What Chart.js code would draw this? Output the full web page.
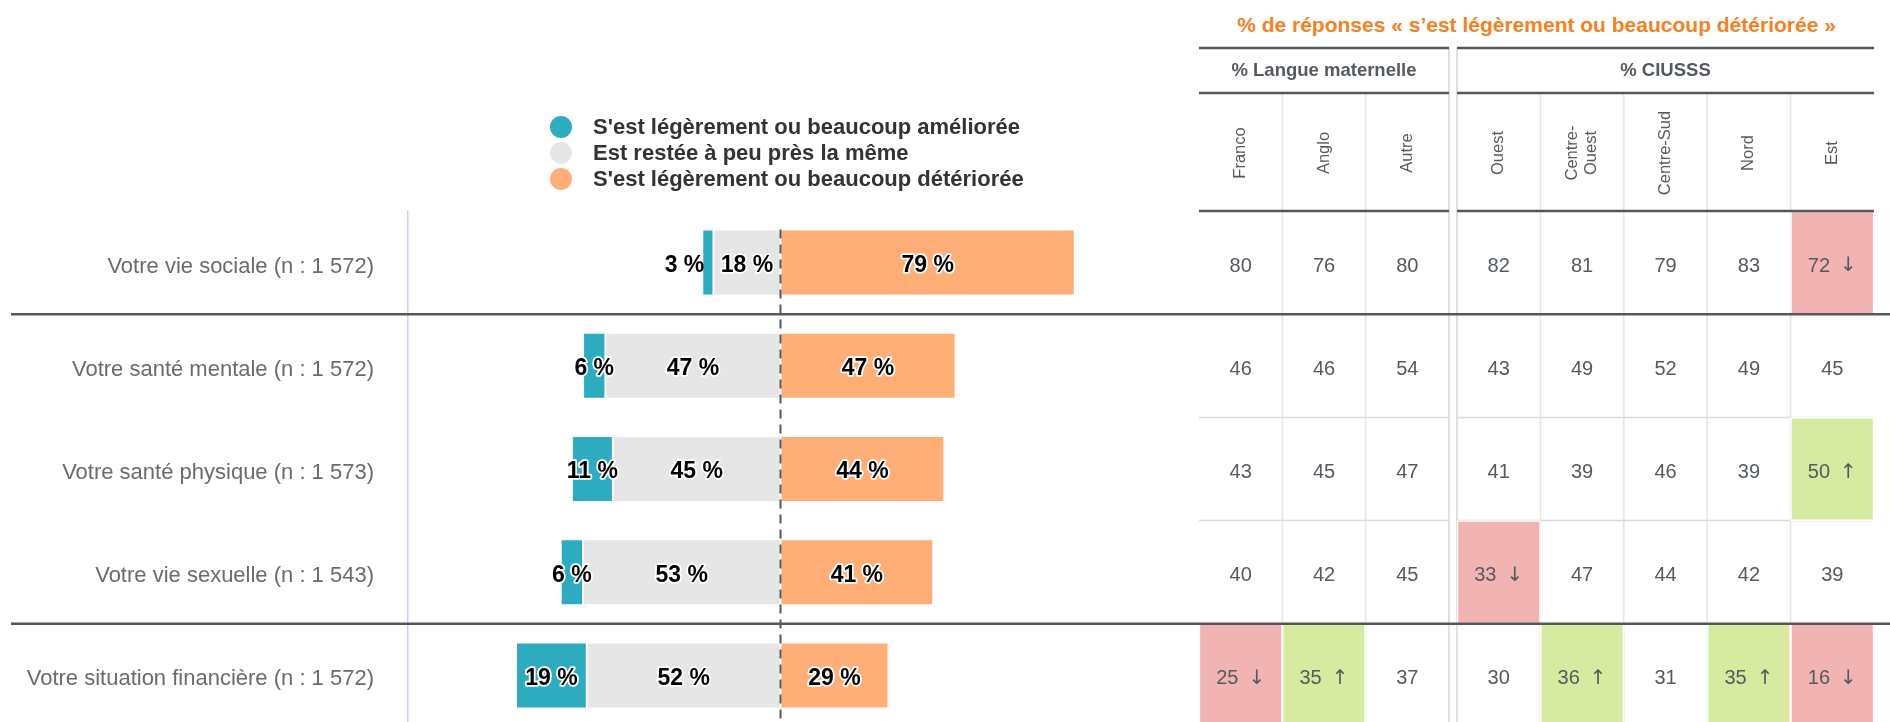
<!DOCTYPE html>
<html lang="fr">
<head>
<meta charset="utf-8">
<title>Évolution depuis la pandémie</title>
<script src="https://cdn.jsdelivr.net/npm/chart.js@4.4.1/dist/chart.umd.min.js"></script>
<style>
  html, body { margin: 0; padding: 0; background: #fff; }
  body { width: 1890px; height: 722px; overflow: hidden; position: relative; font-family: "Liberation Sans", Arial, sans-serif; }
  canvas { position: absolute; top: 0; }
  #c-main { left: 0; }
  #c-langue { left: 1190px; }
  #c-ciusss { left: 1453px; }
  #titre { position: absolute; left: 1199px; width: 675px; top: 11px; text-align: center; color: #f5821f; font-weight: bold; font-size: 21px; line-height: 28px; white-space: nowrap; }
</style>
</head>
<body>
<div id="titre">% de réponses « s’est légèrement ou beaucoup détériorée »</div>
<canvas id="c-main" width="1190" height="727"></canvas>
<canvas id="c-langue" width="263" height="727"></canvas>
<canvas id="c-ciusss" width="437" height="727"></canvas>
<script>
const FONT = '"Liberation Sans", Arial, sans-serif';
const DARK = '#54585e';

// —— données —— //
const rowLabels = [
  'Votre vie sociale (n : 1 572)',
  'Votre santé mentale (n : 1 572)',
  'Votre santé physique (n : 1 573)',
  'Votre vie sexuelle (n : 1 543)',
  'Votre situation financière (n : 1 572)'
];
const groupStarts = [1, 4]; // lignes précédées d'un trait épais

const serieNames = [
  "S'est légèrement ou beaucoup améliorée",
  'Est restée à peu près la même',
  "S'est légèrement ou beaucoup détériorée"
];
const serieColors = ['#2eacbf', '#e6e6e6', '#ffae78'];
const ameliore  = [3, 6, 11, 6, 19];
const meme      = [18, 47, 45, 53, 52];
const deteriore = [79, 47, 44, 41, 29];

const langueCols = ['Franco', 'Anglo', 'Autre'];
const franco = [80, 46, 43, 40, 25];
const anglo  = [76, 46, 45, 42, 35];
const autre  = [80, 54, 47, 45, 37];
const francoSig = ['', '', '', '', 'down'];
const angloSig  = ['', '', '', '', 'up'];
const autreSig  = ['', '', '', '', ''];

const ciusssCols = ['Ouest', 'Centre-\nOuest', 'Centre-Sud', 'Nord', 'Est'];
const ouest       = [82, 43, 41, 33, 30];
const centreOuest = [81, 49, 39, 47, 36];
const centreSud   = [79, 52, 46, 44, 31];
const nord        = [83, 49, 39, 42, 35];
const est         = [72, 45, 50, 39, 16];
const ouestSig       = ['', '', '', 'down', ''];
const centreOuestSig = ['', '', '', '', 'up'];
const centreSudSig   = ['', '', '', '', ''];
const nordSig        = ['', '', '', '', 'up'];
const estSig         = ['down', '', 'up', '', 'down'];

const sigColors = { down: '#f2b3b3', up: '#d6eb9f' };
const sigArrows = { down: '↓', up: '↑' };

Chart.defaults.font.family = FONT;

function line(ctx, x1, y1, x2, y2){
  ctx.beginPath(); ctx.moveTo(x1, y1); ctx.lineTo(x2, y2); ctx.stroke();
}
function rowBoundary(y, i){
  return (y.getPixelForValue(i - 1) + y.getPixelForValue(i)) / 2;
}

// —— graphique principal (barres divergentes) —— //
const mainDeco = {
  id: 'mainDeco',
  afterDatasetsDraw(chart){
    const { ctx, chartArea, scales: { x, y } } = chart;
    ctx.save();
    ctx.strokeStyle = DARK;
    ctx.lineWidth = 2.5;
    groupStarts.forEach(i => {
      const yy = rowBoundary(y, i);
      line(ctx, 11, yy, chart.width, yy);
    });
    // ligne du zéro, pointillée
    const x0 = x.getPixelForValue(0);
    const first = chart.getDatasetMeta(0).data[0];
    ctx.lineWidth = 2;
    ctx.setLineDash([9, 6]);
    line(ctx, x0, first.y - first.height / 2, x0, chartArea.bottom);
    ctx.setLineDash([]);

    // étiquettes des segments (halo blanc)
    ctx.font = `bold 23px ${FONT}`;
    ctx.textBaseline = 'middle';
    ctx.lineJoin = 'round';
    ctx.lineWidth = 3.5;
    ctx.strokeStyle = '#fff';
    ctx.fillStyle = '#000';
    chart.data.datasets.forEach((ds, di) => {
      chart.getDatasetMeta(di).data.forEach((bar, i) => {
        const txt = Math.abs(ds.data[i]) + ' %';
        const left = Math.min(bar.x, bar.base), right = Math.max(bar.x, bar.base);
        const ty = bar.y + 3;
        if (right - left < 15) {
          ctx.textAlign = 'right';
          ctx.fillText(txt, left + 2, ty);
        } else {
          ctx.textAlign = 'center';
          const cx = (left + right) / 2;
          ctx.strokeText(txt, cx, ty);
          ctx.fillText(txt, cx, ty);
        }
      });
    });
    ctx.restore();
  },
  afterDraw(chart){
    // légende
    const ctx = chart.ctx;
    const ly = [127, 153, 179];
    ctx.save();
    ctx.font = `bold 22px ${FONT}`;
    ctx.textBaseline = 'middle';
    ctx.textAlign = 'left';
    serieNames.forEach((name, i) => {
      ctx.fillStyle = serieColors[i];
      ctx.beginPath(); ctx.arc(561, ly[i], 11, 0, Math.PI * 2); ctx.fill();
      ctx.fillStyle = '#333';
      ctx.fillText(name, 593, ly[i] + 1);
    });
    ctx.restore();
  }
};

const barStyle = { borderColor: '#fff', borderWidth: 1, borderSkipped: false, barPercentage: 0.64, categoryPercentage: 1 };

new Chart(document.getElementById('c-main'), {
  type: 'bar',
  data: {
    labels: rowLabels,
    datasets: [
      { label: serieNames[1], data: meme.map(v => -v), backgroundColor: serieColors[1], ...barStyle },
      { label: serieNames[0], data: ameliore.map(v => -v), backgroundColor: serieColors[0], ...barStyle },
      { label: serieNames[2], data: deteriore, backgroundColor: serieColors[2], ...barStyle }
    ]
  },
  options: {
    indexAxis: 'y',
    responsive: false,
    animation: false,
    layout: { padding: { top: 211, right: 37, left: 0, bottom: 0 } },
    scales: {
      x: { stacked: true, min: -100, max: 100, display: false },
      y: {
        stacked: true,
        grid: { display: false, drawTicks: false },
        border: { display: true, color: '#c9d3ea', width: 1.5 },
        ticks: { padding: 34, labelOffset: 4, color: '#6b6b6b', font: { size: 22 } },
        afterFit: s => { s.width = 408; s.paddingTop = 0; s.paddingBottom = 0; }
      }
    },
    plugins: { legend: { display: false }, tooltip: { enabled: false } }
  },
  plugins: [mainDeco]
});

// —— tableaux de pourcentages —— //
function tableChart(id, groupTitle, cols, vals, sigs, edge, pad){
  const deco = {
    id: 'deco',
    beforeDatasetsDraw(chart){
      const { ctx, chartArea: a, scales: { x, y } } = chart;
      ctx.save();
      ctx.lineWidth = 1.5;
      ctx.strokeStyle = '#e6e6e6';
      for (let k = 1; k < cols.length; k++) {
        const xx = x.getPixelForValue(k);
        line(ctx, xx, 94, xx, chart.height);
      }
      ctx.strokeStyle = '#d6d6d6';
      const ex = edge === 'right' ? a.right : a.left;
      line(ctx, ex, 48, ex, chart.height);
      ctx.strokeStyle = '#dcdcdc';
      for (let i = 1; i < rowLabels.length; i++) {
        if (groupStarts.includes(i)) continue;
        const yy = rowBoundary(y, i);
        line(ctx, a.left, yy, a.right, yy);
      }
      ctx.restore();
    },
    afterDatasetsDraw(chart){
      const { ctx, chartArea: a, scales: { x, y } } = chart;
      ctx.save();
      ctx.strokeStyle = DARK;
      ctx.lineWidth = 2.5;
      [48, 93, a.top].forEach(yy => line(ctx, a.left, yy, a.right, yy));
      groupStarts.forEach(i => {
        const yy = rowBoundary(y, i);
        line(ctx, 0, yy, chart.width, yy);
      });

      ctx.fillStyle = '#555a60';
      ctx.textAlign = 'center';
      ctx.textBaseline = 'middle';
      ctx.font = `bold 18.5px ${FONT}`;
      ctx.fillText(groupTitle, (a.left + a.right) / 2, 71);

      // en-têtes de colonnes, verticaux
      ctx.font = `16.5px ${FONT}`;
      cols.forEach((c, k) => {
        const parts = c.split('\n');
        ctx.save();
        ctx.translate(x.getPixelForValue(k + 0.5), 153);
        ctx.rotate(-Math.PI / 2);
        parts.forEach((p, j) => ctx.fillText(p, 0, (j - (parts.length - 1) / 2) * 19));
        ctx.restore();
      });

      // valeurs des cellules, flèche si écart significatif
      const numFont = `20px ${FONT}`, arrowFont = '20px "DejaVu Sans"';
      ctx.textAlign = 'left';
      chart.data.datasets.forEach((ds, k) => {
        chart.getDatasetMeta(k).data.forEach((cell, i) => {
          const num = String(vals[k][i]);
          const arrow = sigArrows[sigs[k][i]] || '';
          const ty = cell.y + 3.5;
          ctx.font = numFont;
          const w1 = ctx.measureText(num).width;
          let w2 = 0, gap = 0;
          if (arrow) { ctx.font = arrowFont; w2 = ctx.measureText(arrow).width; gap = 10; }
          const start = (cell.x + cell.base) / 2 - (w1 + gap + w2) / 2;
          ctx.font = numFont;
          ctx.fillText(num, start, ty);
          if (arrow) { ctx.font = arrowFont; ctx.fillText(arrow, start + w1 + gap, ty); }
        });
      });
      ctx.restore();
    }
  };

  new Chart(document.getElementById(id), {
    type: 'bar',
    data: {
      labels: rowLabels,
      datasets: cols.map((c, k) => ({
        label: c.replace('\n', ' '),
        data: vals[k].map(() => 1),
        backgroundColor: sigs[k].map(s => sigColors[s] || 'rgba(0,0,0,0)'),
        borderColor: '#fff',
        borderWidth: sigs[k].map(s => s ? 1.5 : 0),
        borderSkipped: false,
        barPercentage: 1,
        categoryPercentage: 1
      }))
    },
    options: {
      indexAxis: 'y',
      responsive: false,
      animation: false,
      layout: { padding: { top: 211, left: pad[0], right: pad[1], bottom: 0 } },
      scales: {
        x: { stacked: true, min: 0, max: cols.length, display: false },
        y: { stacked: true, display: false }
      },
      plugins: { legend: { display: false }, tooltip: { enabled: false } }
    },
    plugins: [deco]
  });
}

tableChart('c-langue', '% Langue maternelle', langueCols,
  [franco, anglo, autre], [francoSig, angloSig, autreSig], 'right', [9, 4]);
tableChart('c-ciusss', '% CIUSSS', ciusssCols,
  [ouest, centreOuest, centreSud, nord, est],
  [ouestSig, centreOuestSig, centreSudSig, nordSig, estSig], 'left', [4, 16]);
</script>
</body>
</html>
